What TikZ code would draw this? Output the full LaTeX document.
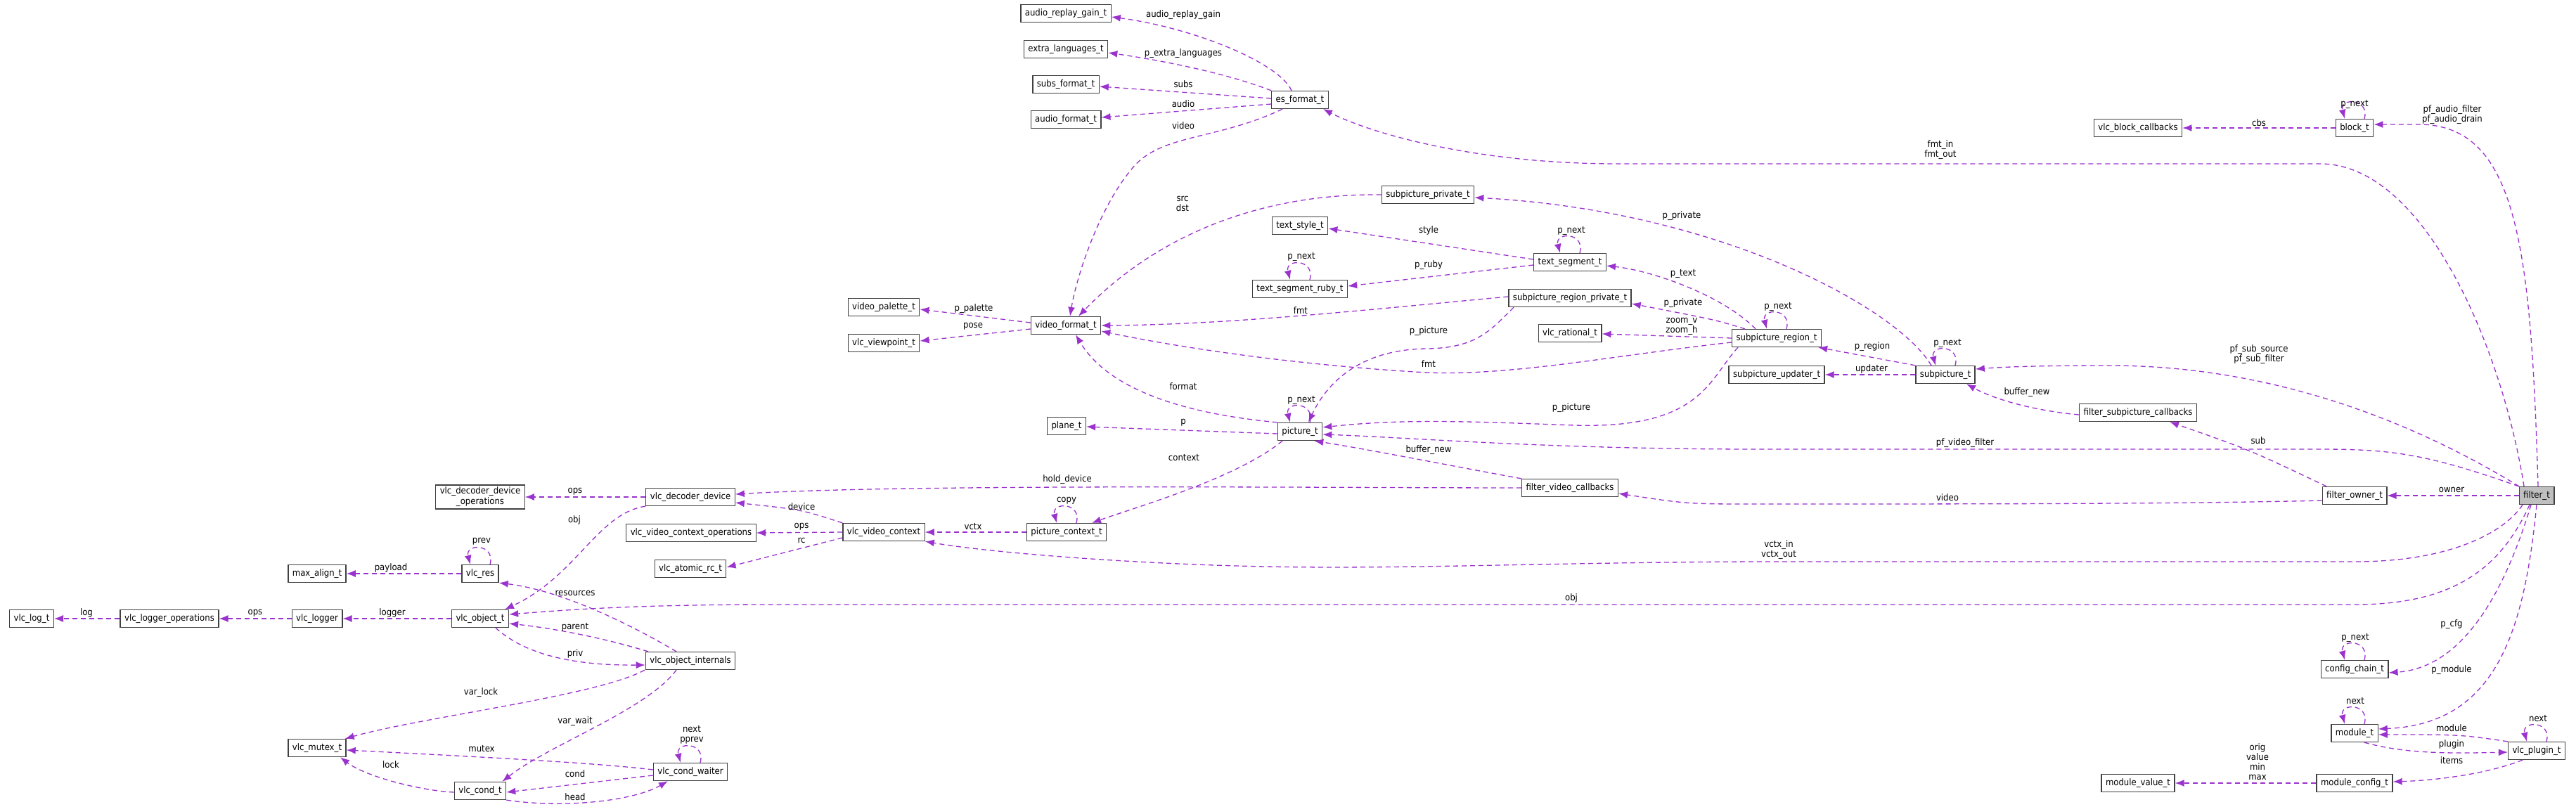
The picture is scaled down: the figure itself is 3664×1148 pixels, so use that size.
\documentclass[tikz,border=0pt]{standalone}
\usepackage{fontspec}
\setmainfont{DejaVu Sans Condensed}
\usetikzlibrary{arrows.meta}
\definecolor{ec}{HTML}{9A32CD}
\tikzset{
  box/.style={draw=black!75,line width=1.3pt,fill=white,minimum height=25pt,inner xsep=6pt,inner ysep=2pt,font=\fontsize{13}{15}\selectfont},
  lbl/.style={font=\fontsize{13}{14}\selectfont,inner sep=0pt,align=center},
  edge/.style={draw=ec,line width=1.3pt,dash pattern=on 7pt off 5pt,-{Latex[length=13pt,width=10pt]}},
}
\newcommand{\selfloop}[1]{\draw[edge] ([xshift=14pt]#1.north) .. controls ([xshift=22pt,yshift=30pt]#1.north) and ([xshift=-22pt,yshift=30pt]#1.north) .. ([xshift=-14pt]#1.north);}
\begin{document}
\begin{tikzpicture}[x=1pt,y=-1pt]
\useasboundingbox (0,0) rectangle (3664,1148);
% nodes
\node[box] (arg) at (1516,19) {audio\_replay\_gain\_t};
\node[box] (ext) at (1516,70) {extra\_languages\_t};
\node[box] (subs) at (1516,120) {subs\_format\_t};
\node[box] (af) at (1516,170) {audio\_format\_t};
\node[box] (es) at (1849,142) {es\_format\_t};
\node[box] (spp) at (2031,277) {subpicture\_private\_t};
\node[box] (tst) at (1849,321) {text\_style\_t};
\node[box] (tsr) at (1849,411) {text\_segment\_ruby\_t};
\node[box] (vp) at (1257,437) {video\_palette\_t};
\node[box] (vv) at (1257,488) {vlc\_viewpoint\_t};
\node[box] (vf) at (1516,463) {video\_format\_t};
\node[box] (ts) at (2233,373) {text\_segment\_t};
\node[box] (srp) at (2233,424) {subpicture\_region\_private\_t};
\node[box] (rat) at (2233,474) {vlc\_rational\_t};
\node[box] (sr) at (2527,481) {subpicture\_region\_t};
\node[box] (su) at (2527,533) {subpicture\_updater\_t};
\node[box] (sp) at (2767,533) {subpicture\_t};
\node[box] (plane) at (1517,606) {plane\_t};
\node[box] (pic) at (1849,614) {picture\_t};
\node[box] (pcx) at (1517,757) {picture\_context\_t};
\node[box] (vvc) at (1257,757) {vlc\_video\_context};
\node[box,align=center,inner ysep=3pt] (ddo) at (683,707) {vlc\_decoder\_device\\\_operations};
\node[box] (dec) at (982,707) {vlc\_decoder\_device};
\node[box] (vco) at (983,758) {vlc\_video\_context\_operations};
\node[box] (rc) at (982,809) {vlc\_atomic\_rc\_t};
\node[box] (ma) at (451,816) {max\_align\_t};
\node[box] (res) at (683,816) {vlc\_res};
\node[box] (log) at (45,880) {vlc\_log\_t};
\node[box] (lgo) at (241,880) {vlc\_logger\_operations};
\node[box] (lg) at (451,880) {vlc\_logger};
\node[box] (vo) at (683,880) {vlc\_object\_t};
\node[box] (oi) at (982,940) {vlc\_object\_internals};
\node[box] (mx) at (451,1064) {vlc\_mutex\_t};
\node[box] (cw) at (982,1098) {vlc\_cond\_waiter};
\node[box] (cond) at (683,1125) {vlc\_cond\_t};
\node[box] (fvc) at (2233,694) {filter\_video\_callbacks};
\node[box] (fsc) at (3041,587) {filter\_subpicture\_callbacks};
\node[box] (fo) at (3349,705) {filter\_owner\_t};
\node[box,fill=black!25] (ft) at (3608,705) {filter\_t};
\node[box] (vbc) at (3041,182) {vlc\_block\_callbacks};
\node[box] (block) at (3349,182) {block\_t};
\node[box] (cc) at (3349,952) {config\_chain\_t};
\node[box] (mod) at (3349,1043) {module\_t};
\node[box] (plg) at (3608,1068) {vlc\_plugin\_t};
\node[box] (mcfg) at (3349,1114) {module\_config\_t};
\node[box] (mval) at (3041,1114) {module\_value\_t};
% edges
\draw[edge] ([xshift=-12pt]es.north) .. controls (1820,90) and (1700,40) .. ([yshift=-5pt]arg.east);
\draw[edge] (es.north west) .. controls (1760,110) and (1680,90) .. ([yshift=-5pt]ext.east);
\draw[edge] ([yshift=2pt]es.west) -- ([yshift=-3pt]subs.east);
\draw[edge] ([yshift=-6pt]es.west) -- ([yshift=3pt]af.east);
\draw[edge] ([xshift=-25pt]es.south) .. controls (1730,200) and (1650,190) .. (1610,240) .. controls (1560,300) and (1530,400) .. ([xshift=6pt]vf.north);
\draw[edge] (spp.west) .. controls (1800,275) and (1650,330) .. ([xshift=18pt]vf.north);
\draw[edge] ([yshift=4pt]vf.west) -- ([yshift=-3pt]vp.east);
\draw[edge] ([yshift=-5pt]vf.west) -- ([yshift=3pt]vv.east);
\draw[edge] ([yshift=4pt]ts.west) -- ([yshift=-4pt]tst.east);
\draw[edge] ([yshift=-4pt]ts.west) -- ([yshift=4pt]tsr.east);
\selfloop{ts}
\selfloop{tsr}
\draw[edge] ([yshift=2pt]srp.west) .. controls (1950,440) and (1750,462) .. (vf.east);
\draw[edge] ([yshift=-6pt]sr.west) .. controls (2300,505) and (2150,535) .. (2030,530) .. controls (1850,520) and (1680,495) .. ([yshift=-8pt]vf.east);
\draw[edge] (pic.north west) .. controls (1700,590) and (1580,560) .. ([xshift=14pt]vf.south);
\selfloop{pic}
\draw[edge] ([yshift=-3pt]pic.west) -- ([yshift=-1pt]plane.east);
\draw[edge] ([xshift=-25pt]pic.south) .. controls (1760,680) and (1620,720) .. ([xshift=36pt]pcx.north);
\selfloop{pcx}
\draw[edge] (pcx.west) -- (vvc.east);
\draw[edge] (vvc.north west) .. controls (1140,725) .. ([yshift=-8pt]dec.east);
\draw[edge] (vvc.west) -- (vco.east);
\draw[edge] ([yshift=-8pt]vvc.west) -- ([yshift=2pt]rc.east);
\draw[edge] (dec.west) -- (ddo.east);
\draw[edge] (dec.south west) .. controls (850,730) and (820,820) .. ([xshift=35pt]vo.north);
\selfloop{res}
\draw[edge] (res.west) -- (ma.east);
\draw[edge] (vo.west) -- (lg.east);
\draw[edge] (lg.west) -- (lgo.east);
\draw[edge] (lgo.west) -- (log.east);
\draw[edge] ([xshift=-20pt]oi.north) .. controls (900,890) and (800,840) .. (res.south east);
\draw[edge] ([xshift=-60pt]oi.north) .. controls (850,905) and (780,893) .. ([yshift=-7pt]vo.east);
\draw[edge] ([xshift=22pt]vo.south) .. controls (740,925) and (800,947) .. ([yshift=-6pt]oi.west);
\draw[edge] ([xshift=-65pt]oi.south) .. controls (850,990) and (600,1020) .. ([xshift=-2pt]mx.north east);
\draw[edge] ([xshift=-20pt]oi.south) .. controls (920,1010) and (780,1060) .. ([xshift=-6pt]cond.north east);
\selfloop{cw}
\draw[edge] ([yshift=3pt]cw.west) .. controls (850,1085) and (650,1075) .. ([yshift=-3pt]mx.east);
\draw[edge] ([yshift=-5pt]cw.west) -- ([yshift=-2pt]cond.east);
\draw[edge] (cond.south east) .. controls (800,1150) and (900,1140) .. ([xshift=-32pt]cw.south);
\draw[edge] ([yshift=-2pt]cond.west) .. controls (600,1125) and (520,1105) .. ([xshift=33pt]mx.south);
\draw[edge] ([xshift=-30pt]sr.north) .. controls (2450,420) and (2350,385) .. ([yshift=-5pt]ts.east);
\draw[edge] ([xshift=-45pt]sr.north) .. controls (2440,455) .. ([yshift=-8pt]srp.east);
\selfloop{sr}
\draw[edge] (sr.west) -- ([yshift=-1pt]rat.east);
\draw[edge] ([xshift=-80pt]srp.south) .. controls (2120,470) and (2100,495) .. (2030,496) .. controls (1920,497) and (1880,560) .. ([xshift=12pt]pic.north);
\draw[edge] ([xshift=-55pt]sr.south) .. controls (2430,540) and (2420,610) .. (2240,605) .. controls (2100,600) and (2000,595) .. ([yshift=6pt]pic.east);
\draw[edge] ([xshift=-20pt]sp.north) .. controls (2700,440) and (2450,300) .. ([yshift=-4pt]spp.east);
\selfloop{sp}
\draw[edge] (sp.north west) -- ([xshift=-5pt]sr.south east);
\draw[edge] (sp.west) -- (su.east);
\draw[edge] ([yshift=-3pt]fsc.west) .. controls (2900,585) and (2840,570) .. ([xshift=30pt]sp.south);
\draw[edge] (fvc.north west) .. controls (2050,660) and (1950,640) .. ([xshift=-12pt]pic.south east);
\draw[edge] (fvc.west) .. controls (1900,694) and (1300,688) .. ([yshift=4pt]dec.east);
\draw[edge] ([xshift=-40pt]fo.north) .. controls (3200,640) .. ([xshift=45pt]fsc.south);
\draw[edge] ([yshift=-7pt]fo.west) .. controls (3100,717) and (2800,717) .. (2500,717) .. controls (2400,717) .. ([yshift=-8pt]fvc.east);
\draw[edge] (ft.west) -- (fo.east);
\draw[edge] ([xshift=-18pt]ft.north) .. controls (3560,500) and (3450,233) .. (3300,233) -- (2300,233) .. controls (2100,233) and (1950,190) .. ([xshift=-8pt]es.south east);
\draw[edge] ([xshift=2pt]ft.north) .. controls (3600,350) and (3580,177) .. (3440,177) -- ([yshift=5pt]block.east);
\selfloop{block}
\draw[edge] (block.west) -- (vbc.east);
\draw[edge] ([xshift=-25pt]ft.north) .. controls (3400,580) and (3200,520) .. (3000,520) .. controls (2900,520) and (2850,522) .. ([yshift=8pt]sp.east);
\draw[edge] (ft.north west) .. controls (3450,645) and (3400,639) .. (3300,639) -- (2500,639) .. controls (2200,639) and (2000,622) .. ([yshift=-4pt]pic.east);
\draw[edge] ([xshift=-20pt]ft.south) .. controls (3560,760) and (3480,799) .. (3350,799) -- (2500,799) .. controls (2200,800) and (2000,810) .. (1800,806) .. controls (1600,802) and (1400,785) .. (vvc.south east);
\draw[edge] ([xshift=-10pt]ft.south) .. controls (3560,800) and (3500,860) .. (3350,860) -- (1100,860) .. controls (900,860) and (800,868) .. ([yshift=6pt]vo.east);
\draw[edge] ([xshift=-8pt]ft.south) .. controls (3560,850) and (3500,950) .. ([yshift=-5pt]cc.east);
\selfloop{cc}
\draw[edge] (ft.south) .. controls (3590,900) and (3550,1030) .. ([yshift=6pt]mod.east);
\selfloop{mod}
\draw[edge] (plg.north west) .. controls (3500,1045) .. ([yshift=-2pt]mod.east);
\draw[edge] ([xshift=-20pt]mod.south east) .. controls (3420,1072) and (3480,1072) .. ([yshift=-2pt]plg.west);
\selfloop{plg}
\draw[edge] ([xshift=-20pt]plg.south) .. controls (3540,1100) and (3470,1110) .. ([yshift=2pt]mcfg.east);
\draw[edge] (mcfg.west) -- (mval.east);
% labels
\node[lbl] (l1) at (1683,21) {audio\_replay\_gain};
\node[lbl] (l2) at (1683,76) {p\_extra\_languages};
\node[lbl] (l3) at (1683,120) {subs};
\node[lbl] (l4) at (1683,148) {audio};
\node[lbl] (l5) at (1683,179) {video};
\node[lbl] (l6) at (1682,290) {src\\dst};
\node[lbl] (l7) at (1385,439) {p\_palette};
\node[lbl] (l8) at (1384,464) {pose};
\node[lbl] (l9) at (2032,328) {style};
\node[lbl] (l10) at (2235,328) {p\_next};
\node[lbl] (l11) at (2032,377) {p\_ruby};
\node[lbl] (l12) at (1851,365) {p\_next};
\node[lbl] (l13) at (1850,442) {fmt};
\node[lbl] (l14) at (2032,518) {fmt};
\node[lbl] (l15) at (1683,550) {format};
\node[lbl] (l16) at (1851,569) {p\_next};
\node[lbl] (l17) at (1683,601) {p};
\node[lbl] (l18) at (1684,651) {context};
\node[lbl] (l19) at (1517,712) {copy};
\node[lbl] (l20) at (1384,749) {vctx};
\node[lbl] (l21) at (1140,721) {device};
\node[lbl] (l22) at (1140,749) {ops};
\node[lbl] (l23) at (1140,769) {rc};
\node[lbl] (l24) at (818,699) {ops};
\node[lbl] (l25) at (817,740) {obj};
\node[lbl] (l26) at (685,770) {prev};
\node[lbl] (l27) at (556,808) {payload};
\node[lbl] (l28) at (558,872) {logger};
\node[lbl] (l29) at (363,872) {ops};
\node[lbl] (l30) at (123,872) {log};
\node[lbl] (l31) at (818,844) {resources};
\node[lbl] (l32) at (818,892) {parent};
\node[lbl] (l33) at (818,930) {priv};
\node[lbl] (l34) at (684,985) {var\_lock};
\node[lbl] (l35) at (818,1026) {var\_wait};
\node[lbl] (l36) at (984,1045) {next\\pprev};
\node[lbl] (l37) at (685,1065) {mutex};
\node[lbl] (l38) at (818,1101) {cond};
\node[lbl] (l39) at (556,1088) {lock};
\node[lbl] (l40) at (818,1134) {head};
\node[lbl] (l41) at (2394,389) {p\_text};
\node[lbl] (l42) at (2394,431) {p\_private};
\node[lbl] (l43) at (2529,436) {p\_next};
\node[lbl] (l44) at (2392,464) {zoom\_v\\zoom\_h};
\node[lbl] (l45) at (2032,471) {p\_picture};
\node[lbl] (l46) at (2235,580) {p\_picture};
\node[lbl] (l47) at (2392,307) {p\_private};
\node[lbl] (l48) at (2770,488) {p\_next};
\node[lbl] (l49) at (2663,493) {p\_region};
\node[lbl] (l50) at (2662,525) {updater};
\node[lbl] (l51) at (2883,558) {buffer\_new};
\node[lbl] (l52) at (2032,640) {buffer\_new};
\node[lbl] (l53) at (1518,682) {hold\_device};
\node[lbl] (l54) at (3212,627) {sub};
\node[lbl] (l55) at (2770,708) {video};
\node[lbl] (l56) at (3487,697) {owner};
\node[lbl] (l57) at (2760,213) {fmt\_in\\fmt\_out};
\node[lbl] (l58) at (3488,163) {pf\_audio\_filter\\pf\_audio\_drain};
\node[lbl] (l59) at (3349,148) {p\_next};
\node[lbl] (l60) at (3213,175) {cbs};
\node[lbl] (l61) at (3213,504) {pf\_sub\_source\\pf\_sub\_filter};
\node[lbl] (l62) at (2795,630) {pf\_video\_filter};
\node[lbl] (l63) at (2530,782) {vctx\_in\\vctx\_out};
\node[lbl] (l64) at (2235,851) {obj};
\node[lbl] (l65) at (3487,888) {p\_cfg};
\node[lbl] (l66) at (3350,907) {p\_next};
\node[lbl] (l67) at (3487,953) {p\_module};
\node[lbl] (l68) at (3350,997) {next};
\node[lbl] (l69) at (3610,1022) {next};
\node[lbl] (l70) at (3487,1036) {module};
\node[lbl] (l71) at (3487,1059) {plugin};
\node[lbl] (l72) at (3487,1082) {items};
\node[lbl] (l73) at (3211,1084) {orig\\value\\min\\max};
\end{tikzpicture}
\end{document}
